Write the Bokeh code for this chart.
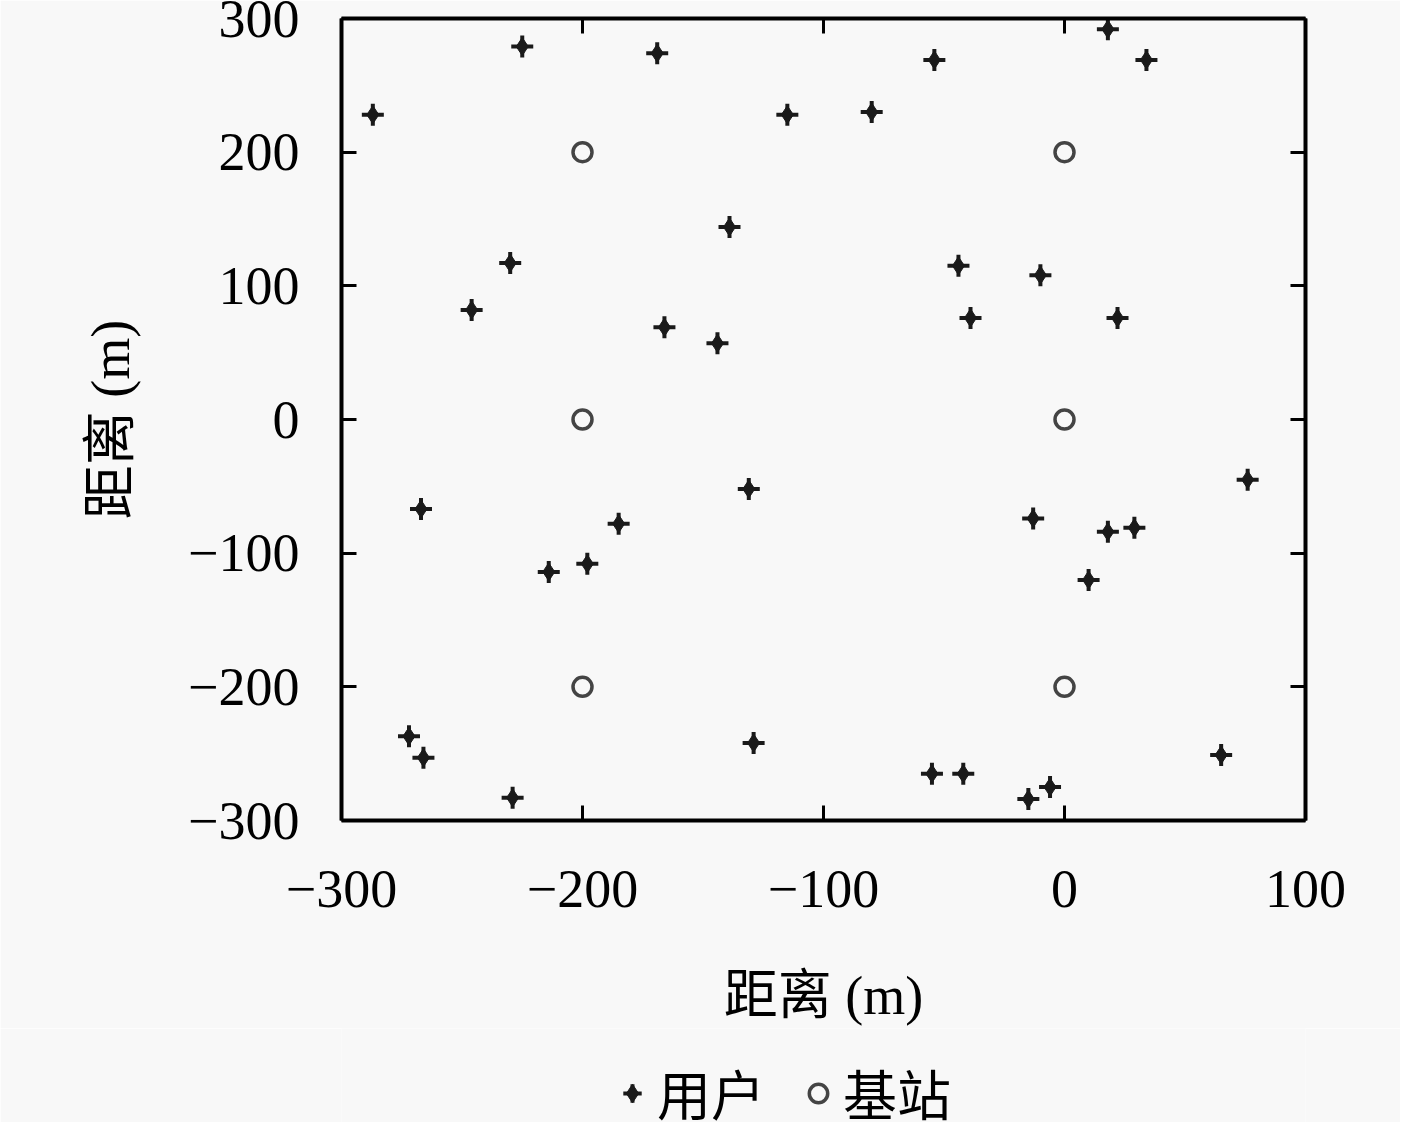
from bokeh.plotting import figure
from bokeh.layouts import column
from bokeh.models import (Range1d, FixedTicker, LinearAxis, Legend, LegendItem,
                          ColumnDataSource)
from bokeh.embed import file_html
from bokeh.resources import INLINE

# Users (用户)
user_x = [-287, -225, -169, -115, -80, -54, 18, 34,
          -139, -230, -246, -166, -144, -44, -39, -10, 22,
          76, -267, -131, -185, -198, -214, -13, 18, 29, 10,
          -272, -266, -229, -129, -55, -42, -15, -6, 65]
user_y = [228, 279, 274, 228, 230, 269, 292, 269,
          144, 117, 82, 69, 57, 115, 76, 108, 76,
          -45, -67, -52, -78, -108, -114, -74, -84, -81, -120,
          -237, -253, -283, -242, -265, -265, -284, -275, -251]

# Base stations (基站)
bs_x = [-200, 0, -200, 0, -200, 0]
bs_y = [200, 200, 0, 0, -200, -200]

x_ticks = [-300, -200, -100, 0, 100]
y_ticks = [-300, -200, -100, 0, 100, 200, 300]
legend_labels = ["用户", "基站"]

FONT = "'Liberation Serif', 'Noto Sans CJK SC'"
BG = "#f8f8f8"
USER_C = "#1a1a1a"
BS_C = "#444444"

p = figure(frame_width=964, frame_height=802, width=1400, height=1040,
           min_border_left=341, min_border_top=18, min_border_right=95,
           x_range=Range1d(-300, 100), y_range=Range1d(-300, 300),
           output_backend="svg", toolbar_location=None,
           background_fill_color=BG, border_fill_color=BG,
           outline_line_color=None)
p.grid.visible = False

def minus(v):
    return str(v).replace("-", "\u2212")

def style_axis(ax, ticks, labels=True):
    ax.ticker = FixedTicker(ticks=ticks)
    ax.axis_line_width = 4
    ax.axis_line_color = "black"
    ax.major_tick_in = 15
    ax.major_tick_out = 0
    ax.major_tick_line_width = 3
    ax.minor_tick_line_color = None
    ax.major_label_text_font = FONT
    ax.major_label_text_font_size = "54px"
    ax.major_label_text_color = "black" if labels else None
    ax.major_label_overrides = {t: minus(t) for t in ticks}
    ax.major_label_standoff = 46

xa = p.xaxis[0]
ya = p.yaxis[0]
style_axis(xa, x_ticks)
style_axis(ya, y_ticks)
xa.major_label_standoff = 50
ya.major_label_standoff = 42
xa.axis_label = "距离 (m)"
ya.axis_label = "距离 (m)"
for a in (xa, ya):
    a.axis_label_text_font = FONT
    a.axis_label_text_font_size = "54px"
    a.axis_label_text_font_style = "normal"
    a.axis_label_text_color = "black"
xa.axis_label_standoff = 56
ya.axis_label_standoff = 44

top = LinearAxis()
style_axis(top, x_ticks, labels=False)
top.major_label_standoff = 0
top.major_label_text_font_size = "1px"
p.add_layout(top, "above")
right = LinearAxis()
style_axis(right, y_ticks, labels=False)
right.major_label_standoff = 0
right.major_label_text_font_size = "1px"
p.add_layout(right, "right")

usrc = ColumnDataSource(dict(x=user_x, y=user_y))
bsrc = ColumnDataSource(dict(x=bs_x, y=bs_y))

def user_marks(fig, src):
    a = fig.scatter("x", "y", source=src, marker="cross", size=22,
                    line_color=USER_C, line_width=4)
    b = fig.scatter("x", "y", source=src, marker="diamond", size=18,
                    fill_color=USER_C, line_color=USER_C)
    return [a, b]

def bs_marks(fig, src):
    return [fig.scatter("x", "y", source=src, marker="circle", size=19,
                        fill_color=None, line_color=BS_C, line_width=3.5)]

user_marks(p, usrc)
bs_marks(p, bsrc)

# legend strip below the chart (its marks lie outside its range, only the
# legend glyphs are seen)
p2 = figure(width=1400, height=94, x_range=Range1d(0, 1), y_range=Range1d(0, 1),
            output_backend="svg", toolbar_location=None, min_border=0,
            background_fill_color=BG, border_fill_color=BG,
            outline_line_color=None)
p2.axis.visible = False
p2.grid.visible = False
lu = user_marks(p2, ColumnDataSource(dict(x=user_x[:1], y=user_y[:1])))
lb = bs_marks(p2, ColumnDataSource(dict(x=bs_x[:1], y=bs_y[:1])))
legend = Legend(items=[LegendItem(label=legend_labels[0], renderers=lu),
                       LegendItem(label=legend_labels[1], renderers=lb)],
                orientation="horizontal", location=(268, -10),
                label_text_font=FONT, label_text_font_size="54px",
                label_text_color="black",
                label_standoff=2, spacing=30, glyph_width=46, glyph_height=46,
                border_line_color=None, background_fill_alpha=0,
                padding=0, margin=0, label_height=54)
p2.add_layout(legend, "center")

page = column(p, p2, spacing=0)
open("out.html", "w").write(file_html(page, INLINE))
